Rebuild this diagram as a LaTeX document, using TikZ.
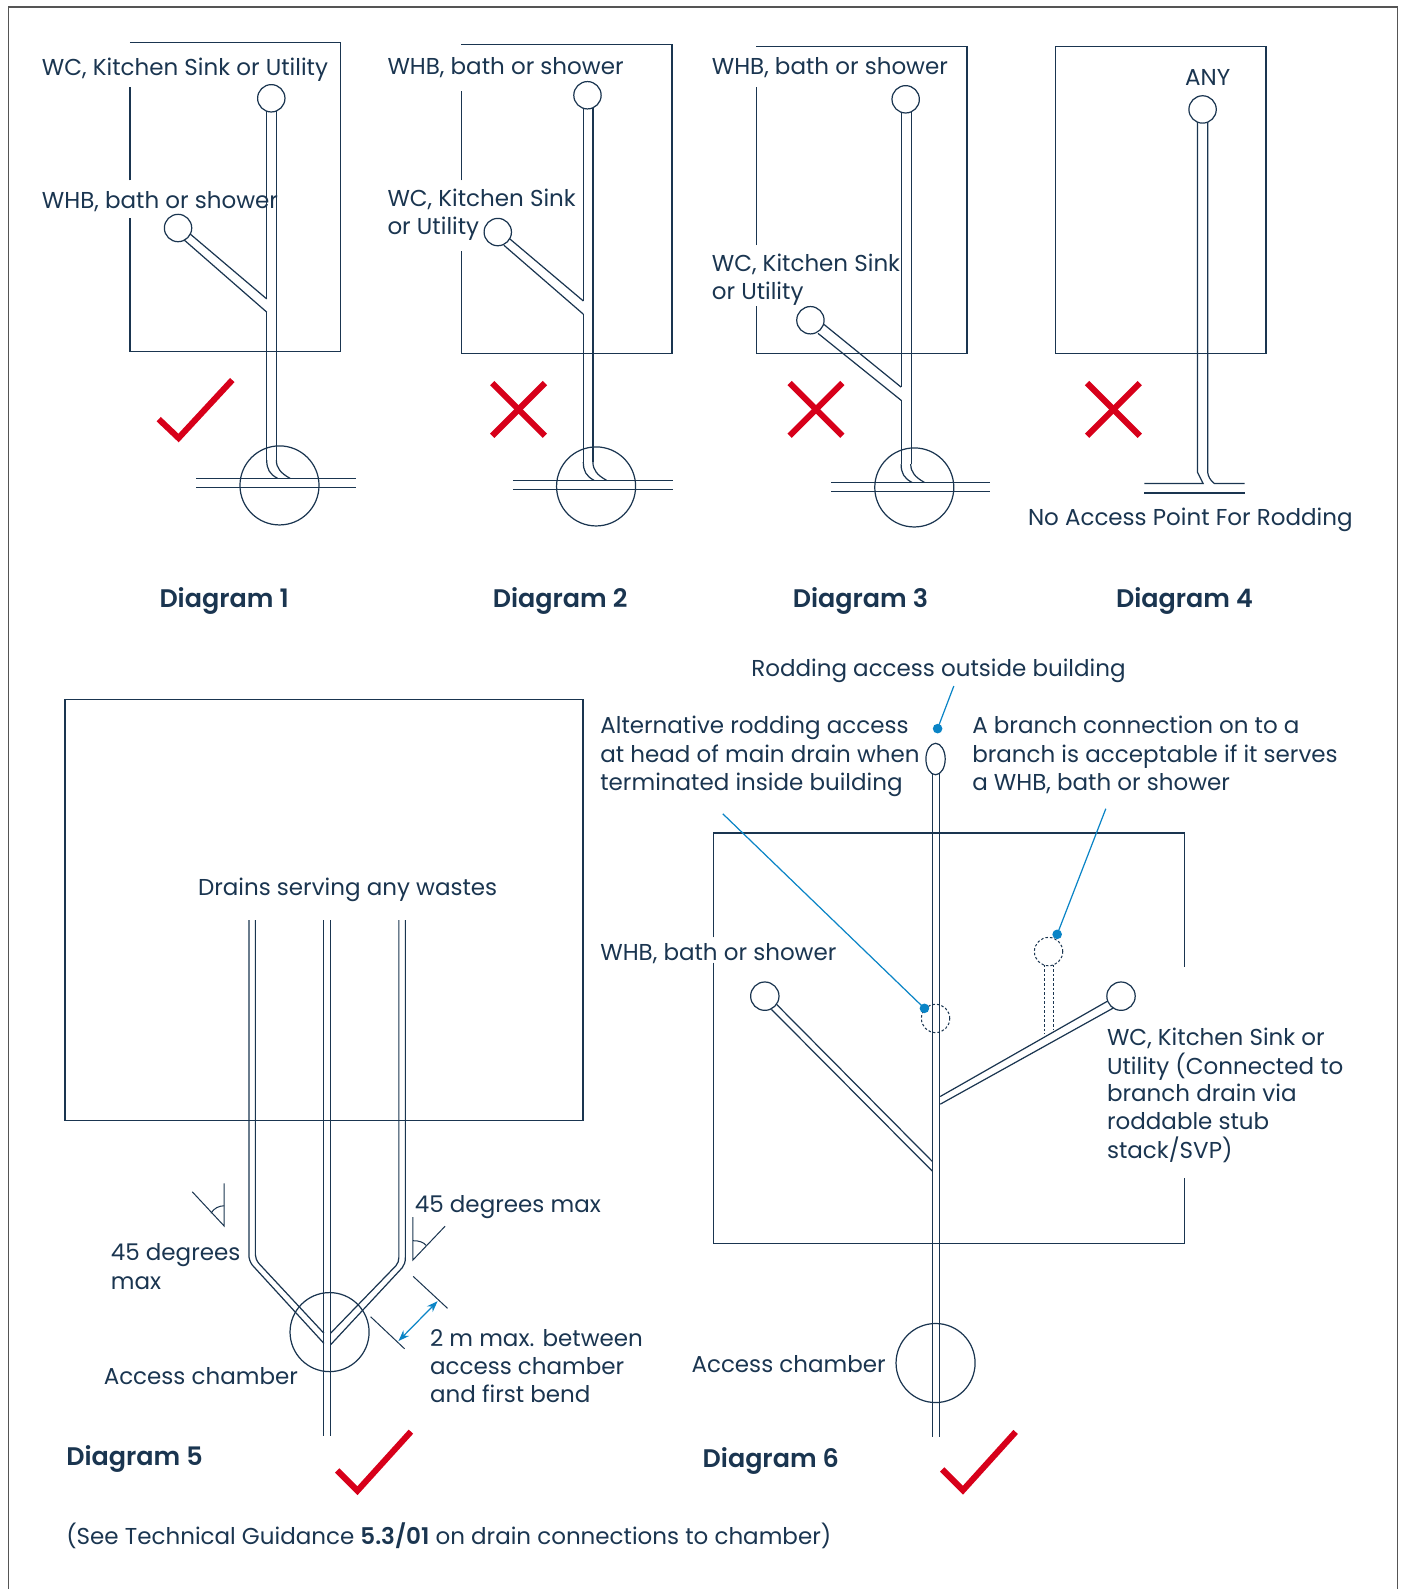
\documentclass[tikz,border=0pt]{standalone}
\usepackage{fontspec}
\usetikzlibrary{arrows.meta,shapes.geometric}
\setmainfont{Poppins}[BoldFont={Poppins SemiBold}]
\definecolor{navy}{HTML}{1A3550}
\definecolor{redmark}{HTML}{D7001A}
\definecolor{bluemark}{HTML}{0A84C6}
\definecolor{framegrey}{HTML}{555555}
\tikzset{
  pipe/.style={draw=navy,line width=1.2pt},
  wallline/.style={draw=navy,line width=1.2pt},
  headcirc/.style={circle,draw=navy,fill=white,line width=1.2pt,inner sep=0pt,minimum size=27pt},
  chamber/.style={circle,draw=navy,line width=1.2pt,inner sep=0pt,minimum size=78pt},
  dashcirc/.style={circle,draw=navy,dashed,dash pattern=on 2.5pt off 2pt,line width=1pt,inner sep=0pt,minimum size=28pt},
  label/.style={anchor=base west,inner sep=0pt,text=navy,font=\fontsize{22.7}{28}\selectfont},
  title/.style={anchor=base west,inner sep=0pt,text=navy,font=\fontsize{25.1}{30}\selectfont\bfseries},
  redline/.style={draw=redmark,line width=6pt,miter limit=10},
  leader/.style={draw=bluemark,line width=1.2pt},
  bluedot/.style={circle,fill=bluemark,inner sep=0pt,minimum size=9.5pt},
}
\newcommand{\dbend}[2]{%
  \begin{scope}[shift={(#1,#2)}]
    \draw[pipe] (0,-18) .. controls (0,-9) and (3,-4) .. (10.7,0);
    \draw[pipe] (9.5,-18) .. controls (9.5,-10) and (14,-5) .. (23,0);
  \end{scope}}
\newcommand{\crossmark}[2]{%
  \begin{scope}[shift={(#1,#2)}]
    \draw[redline] (-26,-26) -- (26,26);
    \draw[redline] (26,-26) -- (-26,26);
  \end{scope}}
\begin{document}
\begin{tikzpicture}[x=1pt,y=-1pt]
\useasboundingbox (-0.2,0) rectangle (1383.3,1568);
% outer frame
\draw[draw=framegrey,line width=1.3pt] (8,1568) -- (8,7) -- (1379,7) -- (1379,1568);

% ---------- Diagram 1
\draw[wallline] (128,42) -- (336,42) -- (336,347) -- (128,347) -- (128,215);
\draw[wallline] (128,178) -- (128,86);
\draw[pipe] (263,109) -- (263,295);
\draw[pipe] (263,308) -- (263,454);
\draw[pipe] (272.5,109) -- (272.5,454);
\draw[pipe] (186.4,230) -- (263,295);
\draw[pipe] (180.6,236) -- (263,308);
\dbend{263}{472}
\draw[pipe] (193.4,472) -- (351,472);
\draw[pipe] (193.4,481) -- (351,481);
\node[chamber] (c1) at (275.6,479) {};
\node[headcirc] (h1) at (267.5,97) {};
\node[headcirc] (b1) at (175.5,225) {};
\draw[redline] (156.4,413.6) -- (176,432.2) -- (229,375);
\node[label] (t1a) at (41,74.3) {WC, Kitchen Sink or Utility};
\node[label] (t1b) at (41,205.5) {WHB, bath or shower};
\node[title] (d1) at (157,599) {Diagram 1};

% ---------- Diagram 2
\draw[wallline] (455,44) -- (663,44) -- (663,349) -- (455,349) -- (455,248);
\draw[wallline] (455,178) -- (455,90);
\draw[pipe] (575.4,106) -- (575.4,297);
\draw[pipe] (575.4,310) -- (575.4,456);
\draw[pipe] (585,106) -- (585,456);
\draw[pipe] (502,235) -- (575.4,297);
\draw[pipe] (497,242) -- (575.4,310);
\dbend{575.4}{474}
\draw[pipe] (506,474) -- (664,474);
\draw[pipe] (506,483) -- (664,483);
\node[chamber] (c2) at (588,480) {};
\node[headcirc] (h2) at (579.5,94) {};
\node[headcirc] (b2) at (491,229) {};
\crossmark{511.5}{404}
\node[label] (t2a) at (382,74) {WHB, bath or shower};
\node[label] (t2b) at (382,203.5) {WC, Kitchen Sink};
\node[label] (t2c) at (382,231.5) {or Utility};
\node[title] (d2) at (486,599) {Diagram 2};

% ---------- Diagram 3
\draw[wallline] (746,46) -- (954,46) -- (954,349) -- (746,349) -- (746,302);
\draw[wallline] (746,242) -- (746,86);
\draw[pipe] (889,110) -- (889,382);
\draw[pipe] (889,395) -- (889,458);
\draw[pipe] (899,110) -- (899,458);
\draw[pipe] (812.7,320) -- (889,382);
\draw[pipe] (807,329) -- (889,395);
\dbend{889}{476}
\draw[pipe] (820,476) -- (977,476);
\draw[pipe] (820,485) -- (977,485);
\node[chamber] (c3) at (902,481) {};
\node[headcirc] (h3) at (893.5,98) {};
\node[headcirc] (b3) at (799.5,316) {};
\crossmark{805}{404}
\node[label] (t3a) at (702,74) {WHB, bath or shower};
\node[label] (t3b) at (702,268) {WC, Kitchen Sink};
\node[label] (t3c) at (702,296) {or Utility};
\node[title] (d3) at (782,599) {Diagram 3};

% ---------- Diagram 4
\draw[wallline] (1041,46) rectangle (1249,349);
\draw[pipe] (1181.5,120) -- (1181.5,466) -- (1187,477) -- (1129,477);
\draw[pipe] (1191.5,120) -- (1191.5,466) .. controls (1192,470) and (1194,474) .. (1198,477) -- (1228,477);
\draw[pipe] (1129,486.5) -- (1228,486.5);
\node[headcirc] (h4) at (1186.5,108) {};
\crossmark{1098.5}{404}
\node[label] (t4a) at (1169,84) {ANY};
\node[label] (t4b) at (1014,518.5) {No Access Point For Rodding};
\node[title] (d4) at (1101,599) {Diagram 4};

% ---------- Diagram 5
\draw[wallline] (64,690) rectangle (575,1106);
\draw[pipe] (319.4,908) -- (319.4,1417);
\draw[pipe] (326,908) -- (326,1417);
\draw[pipe] (245.4,908) -- (245.4,1238) .. controls (245.4,1242) and (246.5,1245) .. (248.7,1248.3) -- (319.4,1325.6);
\draw[pipe] (251.8,908) -- (251.8,1238) .. controls (251.8,1241) and (253,1244) .. (255.3,1246.8) -- (319.4,1315.6);
\draw[pipe] (393.4,908) -- (393.4,1241) .. controls (393.4,1244) and (392.5,1246.5) .. (390.5,1249) -- (326,1315.6);
\draw[pipe] (399.8,908) -- (399.8,1241) .. controls (399.8,1245) and (398.8,1248.5) .. (396.7,1251) -- (326,1327);
\node[chamber] (c5) at (325,1314.5) {};
% angle marks
\draw[pipe,line width=1pt] (221,1167.6) -- (221,1209.8) -- (189.5,1176);
\draw[pipe,line width=1pt] (208,1197.2) .. controls (211,1192) and (216,1190) .. (221,1189.8);
\draw[pipe,line width=1pt] (407.2,1201) -- (407.2,1243.4) -- (439,1210);
\draw[pipe,line width=1pt] (407.2,1224.3) .. controls (413,1224) and (418,1226) .. (420.4,1229);
% dimension
\draw[pipe,line width=1pt] (407.5,1259.5) -- (441.4,1291);
\draw[pipe,line width=1pt] (365.5,1299.3) -- (399,1330.9);
\coordinate (dimA) at (393,1323.3);
\coordinate (dimB) at (431.6,1284);
\draw[leader,{Stealth[length=11pt,width=8pt]}-{Stealth[length=11pt,width=8pt]}] (dimA) -- (dimB);
\draw[redline] (332.5,1451) -- (352.5,1471) -- (405.3,1412.7);
\node[label] (t5a) at (195,884) {Drains serving any wastes};
\node[label] (t5b) at (409,1196) {45 degrees max};
\node[label] (t5c) at (109,1244) {45 degrees};
\node[label] (t5d) at (109,1272) {max};
\node[label] (t5e) at (102,1366) {Access chamber};
\node[label] (t5f) at (424,1328.5) {2 m max. between};
\node[label] (t5g) at (424,1356) {access chamber};
\node[label] (t5h) at (424,1384) {and first bend};
\node[title] (d5) at (65,1446) {Diagram 5};
\node[label] (t5i) at (65,1524) {(See Technical Guidance \textbf{5.3/01} on drain connections to chamber)};

% ---------- Diagram 6
\draw[wallline] (704,925) -- (704,822) -- (1169,822) -- (1169,954);
\draw[wallline] (704,950) -- (704,1227) -- (1169,1227) -- (1169,1162);
\draw[pipe] (920,764) -- (920,1418);
\draw[pipe] (927,764) -- (927,1418);
\draw[pipe] (766,991) -- (919.7,1146);
\draw[pipe] (761,996) -- (919.7,1155.6);
\draw[pipe] (1093.4,987.5) -- (927.6,1082);
\draw[pipe] (1098.4,994.7) -- (927.6,1089.6);
\draw[draw=navy,dashed,dash pattern=on 2.5pt off 2pt,line width=1pt] (1030.5,952) -- (1030.5,1020);
\draw[draw=navy,dashed,dash pattern=on 2.5pt off 2pt,line width=1pt] (1039,952) -- (1039,1016);
\node[headcirc,minimum size=28pt] (b6a) at (754.5,983) {};
\node[headcirc,minimum size=28pt] (b6b) at (1106,983) {};
\node[ellipse,draw=navy,fill=white,line width=1.2pt,inner sep=0pt,minimum width=19pt,minimum height=31pt] (h6) at (923,749) {};
\node[chamber] (c6) at (923,1345) {};
\node[dashcirc] (dc1) at (923,1005) {};
\node[dashcirc] (dc2) at (1034.5,939) {};
\node[bluedot] (dot1) at (925,719) {};
\node[bluedot] (dot2) at (912,995) {};
\node[bluedot] (dot3) at (1043,922) {};
\coordinate (l1) at (941,677);
\coordinate (l2) at (713,803);
\coordinate (l3) at (1091,798);
\draw[leader] (l1) -- (dot1.center);
\draw[leader] (l2) -- (dot2.center);
\draw[leader] (l3) -- (dot3.center);
\draw[redline] (929.5,1450) -- (950,1470.5) -- (1002,1413);
\node[label] (t6a) at (741,668) {Rodding access outside building};
\node[label] (t6b) at (592,724) {Alternative rodding access};
\node[label] (t6c) at (592,752) {at head of main drain when};
\node[label] (t6d) at (592,780) {terminated inside building};
\node[label] (t6e) at (959,724) {A branch connection on to a};
\node[label] (t6f) at (959,752) {branch is acceptable if it serves};
\node[label] (t6g) at (959,780) {a WHB, bath or shower};
\node[label] (t6h) at (592,948) {WHB, bath or shower};
\node[label] (t6i) at (1092,1032) {WC, Kitchen Sink or};
\node[label] (t6j) at (1092,1060) {Utility (Connected to};
\node[label] (t6k) at (1092,1087) {branch drain via};
\node[label] (t6l) at (1092,1115) {roddable stub};
\node[label] (t6m) at (1092,1143) {stack/SVP)};
\node[label] (t6n) at (682,1354) {Access chamber};
\node[title] (d6) at (693,1448) {Diagram 6};
\end{tikzpicture}
\end{document}
